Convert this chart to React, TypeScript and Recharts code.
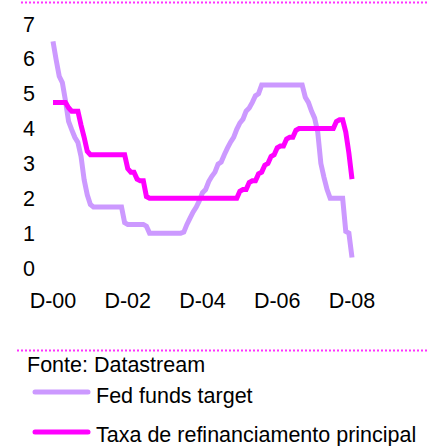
import { LineChart, Line, XAxis, YAxis } from 'recharts'

// monthly, Dec 2000 .. Dec 2008
const monthLetters = ['J', 'F', 'M', 'A', 'M', 'J', 'J', 'A', 'S', 'O', 'N', 'D']
const startYear = 2000
const monthCount = 97

const fedFunds = [
  6.5, 5.98, 5.5, 5.32, 4.8, 4.21, 3.97, 3.75, 3.6, 3.2, 2.53, 2.1, 1.82,
  1.75, 1.75, 1.75, 1.75, 1.75, 1.75, 1.75, 1.75, 1.75, 1.75,
  1.3, 1.25, 1.25, 1.25, 1.25, 1.25, 1.25,
  1.2,
  1.0, 1.0, 1.0, 1.0, 1.0, 1.0, 1.0, 1.0, 1.0, 1.0, 1.0,
  1.03, 1.25, 1.43, 1.61, 1.75, 1.93, 2.16, 2.25, 2.48, 2.63, 2.75, 2.98, 3.04,
  3.25, 3.44, 3.61, 3.75, 3.98, 4.16, 4.27, 4.5, 4.59, 4.75, 4.94, 5.0,
  5.25, 5.25, 5.25, 5.25, 5.25, 5.25, 5.25, 5.25, 5.25, 5.25, 5.25, 5.25, 5.25, 5.25,
  4.9, 4.75, 4.5, 4.3, 3.9, 3.0, 2.6, 2.25,
  2.0, 2.0, 2.0, 2.0, 2.0,
  1.05, 1.0, 0.3,
]

const ecbRefi = [
  4.75, 4.75, 4.75, 4.75, 4.75, 4.6, 4.5, 4.5, 4.5,
  4.1, 3.75, 3.35,
  3.25, 3.25, 3.25, 3.25, 3.25, 3.25, 3.25, 3.25, 3.25, 3.25, 3.25, 3.25,
  2.85, 2.75, 2.75, 2.55, 2.5, 2.5, 2.05,
  2.0, 2.0, 2.0, 2.0, 2.0, 2.0, 2.0, 2.0, 2.0, 2.0, 2.0, 2.0, 2.0, 2.0, 2.0,
  2.0, 2.0, 2.0, 2.0, 2.0, 2.0, 2.0, 2.0, 2.0, 2.0, 2.0, 2.0, 2.0, 2.0,
  2.2, 2.25, 2.25, 2.45, 2.5, 2.5, 2.7, 2.75, 2.95, 3.0, 3.2, 3.25, 3.45,
  3.5, 3.5, 3.7, 3.75, 3.75, 3.95,
  4.0, 4.0, 4.0, 4.0, 4.0, 4.0, 4.0, 4.0, 4.0, 4.0, 4.0, 4.0,
  4.2, 4.25, 4.25, 3.9, 3.3, 2.55,
]

const yTicks = [0, 1, 2, 3, 4, 5, 6, 7]

const months: string[] = []
for (let i = 0; i < monthCount; i++) {
  const m = (11 + i) % 12
  const y = startYear + Math.floor((11 + i) / 12)
  months.push(monthLetters[m] + '-' + String(y % 100).padStart(2, '0'))
}

const data = months.map((month, i) => ({ month, fed: fedFunds[i], ecb: ecbRefi[i] }))

const FONT = '"Liberation Sans", Arial, sans-serif'
const FS = 21.5
const FED = '#cc99ff'
const ECB = '#ff00ff'

export default function App() {
  return (
    <div style={{ position: 'absolute', left: 0, top: 0, width: 444, height: 446, fontFamily: FONT, background: '#fff' }}>
      <svg width={444} height={446} style={{ position: 'absolute', left: 0, top: 0 }}>
        <line x1={21} y1={2.5} x2={428} y2={2.5} stroke={ECB} strokeWidth={2} strokeDasharray="2 2" opacity={0.8} />
        <line x1={17} y1={350.5} x2={428} y2={350.5} stroke={ECB} strokeWidth={2} strokeDasharray="2 2" opacity={0.8} />
        <line x1={35} y1={392} x2={88} y2={392} stroke={FED} strokeWidth={5} strokeLinecap="round" />
        <line x1={35} y1={432} x2={88} y2={432} stroke={ECB} strokeWidth={5} strokeLinecap="round" />
        <text x={27} y={372} fontSize={FS} fill="#000" fontFamily={FONT}>Fonte: Datastream</text>
        <text x={96} y={403} fontSize={FS} fill="#000" fontFamily={FONT}>Fed funds target</text>
        <text x={96} y={442} fontSize={FS} fill="#000" fontFamily={FONT}>Taxa de refinanciamento principal</text>
      </svg>
      <div style={{ position: 'absolute', left: 0, top: 0 }}>
        <LineChart width={444} height={330} data={data} margin={{ top: 24, right: 92, bottom: 12, left: 0 }}>
          <XAxis
            dataKey="month"
            interval={23}
            axisLine={false}
            tickLine={false}
            tickSize={0}
            tickMargin={25}
            height={50}
            tick={{ fontSize: FS, fill: '#000', fontFamily: FONT }}
          />
          <YAxis
            domain={[0, 7]}
            ticks={yTicks}
            width={53}
            axisLine={false}
            tickLine={false}
            tickSize={0}
            tickMargin={18}
            tick={{ fontSize: FS, fill: '#000', fontFamily: FONT }}
          />
          <Line dataKey="fed" stroke={FED} strokeWidth={5} dot={false} isAnimationActive={false} />
          <Line dataKey="ecb" stroke={ECB} strokeWidth={5} dot={false} isAnimationActive={false} />
        </LineChart>
      </div>
    </div>
  )
}
